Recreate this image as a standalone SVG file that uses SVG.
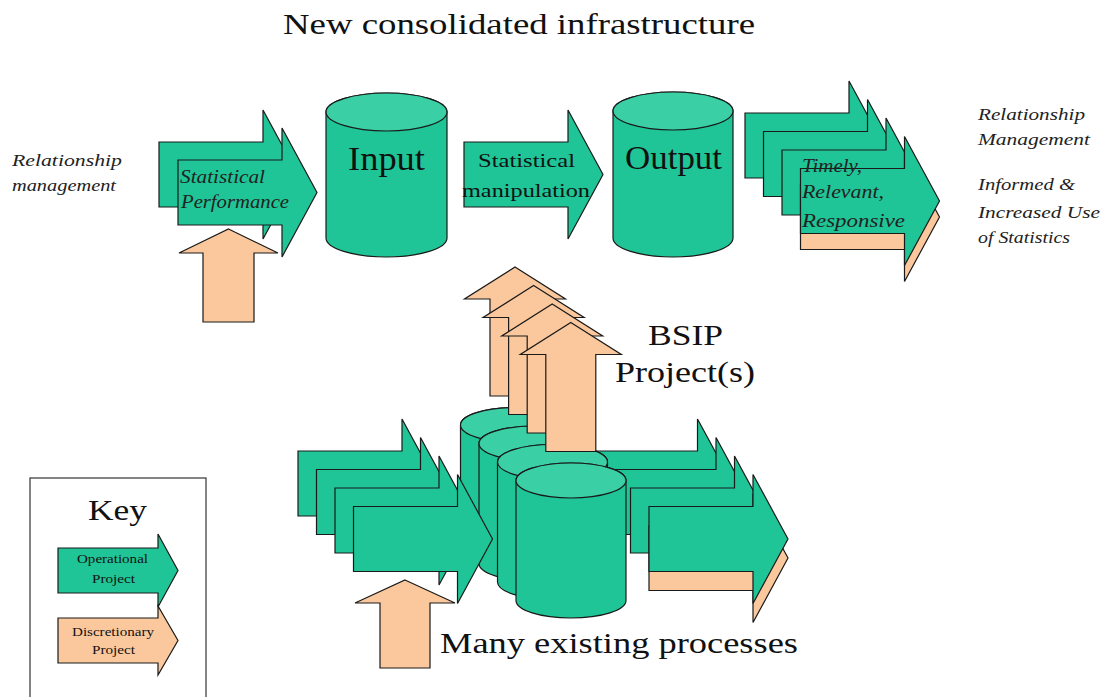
<svg xmlns="http://www.w3.org/2000/svg" width="1106" height="697" viewBox="0 0 1106 697">
  <style>
    .op { fill: #1fc597; stroke: #1a1a1a; stroke-width: 1.2; stroke-linejoin: miter; }
    .disc { fill: #fbc89d; stroke: #1a1a1a; stroke-width: 1.2; }
    .cyl { fill: #1fc597; stroke: #1a1a1a; stroke-width: 1.2; }
    .cyltop { fill: #3acfa5; stroke: #1a1a1a; stroke-width: 1.2; }
    .serif { font-family: "Liberation Serif", "Times New Roman", serif; fill: #111; }
    .it { font-family: "Liberation Serif", "Times New Roman", serif; font-style: italic; fill: #222; }
  </style>
  <rect width="1106" height="697" fill="#ffffff"/>

  <!-- title -->
  <text class="serif" x="283" y="34" font-size="30" textLength="472" lengthAdjust="spacingAndGlyphs">New consolidated infrastructure</text>

  <!-- left-hand label -->
  <g id="rel-left">
    <text class="it" x="12" y="166" font-size="17" textLength="110" lengthAdjust="spacingAndGlyphs">Relationship</text>
    <text class="it" x="12" y="191" font-size="17" textLength="104" lengthAdjust="spacingAndGlyphs">management</text>
  </g>

  <!-- discretionary input below the performance arrows -->
  <g id="perf-disc">
    <path class="disc" d="M228.5,229 L278,253 H254 V322 H203 V253 H179 Z"/>
  </g>

  <!-- statistical performance (two stacked operational arrows) -->
  <g id="stat-performance">
    <path class="op" d="M159,142 H263 V110 L298,174.5 L263,239 V207 H159 Z"/>
    <path class="op" d="M178,160 H282 V128 L317,192.5 L282,257 V225 H178 Z"/>
    <text class="it" x="180" y="183" font-size="18" textLength="85" lengthAdjust="spacingAndGlyphs">Statistical</text>
    <text class="it" x="181" y="208" font-size="18" textLength="108" lengthAdjust="spacingAndGlyphs">Performance</text>
  </g>

  <!-- input store -->
  <g id="input">
    <path class="cyl" d="M326,112 A60.5,19 0 0 1 447,112 V238 A60.5,19 0 0 1 326,238 Z"/>
    <ellipse class="cyltop" cx="386.5" cy="112" rx="60.5" ry="19"/>
    <text class="serif" x="348" y="170" font-size="33" textLength="77" lengthAdjust="spacingAndGlyphs">Input</text>
  </g>

  <!-- statistical manipulation -->
  <g id="stat-manipulation">
    <path class="op" d="M464,142 H568 V110 L603,174.5 L568,239 V207 H464 Z"/>
    <text class="serif" x="478" y="167" font-size="19" textLength="97" lengthAdjust="spacingAndGlyphs">Statistical</text>
    <text class="serif" x="462" y="197" font-size="19" textLength="128" lengthAdjust="spacingAndGlyphs">manipulation</text>
  </g>

  <!-- output store -->
  <g id="output">
    <path class="cyl" d="M613,111 A60,19 0 0 1 733,111 V238 A60,19 0 0 1 613,238 Z"/>
    <ellipse class="cyltop" cx="673" cy="111" rx="60" ry="19"/>
    <text class="serif" x="625" y="169" font-size="33" textLength="97" lengthAdjust="spacingAndGlyphs">Output</text>
  </g>

  <!-- timely / relevant / responsive outputs -->
  <g id="outputs-stack">
    <path class="op" d="M745,113 H849 V81 L884,145.5 L849,210 V178 H745 Z"/>
    <path class="op" d="M763.5,131.5 H867.5 V99.5 L902.5,164 L867.5,228.5 V196.5 H763.5 Z"/>
    <path class="op" d="M782,150 H886 V118 L921,182.5 L886,247 V215 H782 Z"/>
    <path class="disc" d="M800.5,184.5 H904.5 V152.5 L939.5,217 L904.5,281.5 V249.5 H800.5 Z"/>
    <path class="op" d="M800.5,168.5 H904.5 V136.5 L939.5,201 L904.5,265.5 V233.5 H800.5 Z"/>
    <text class="it" x="802" y="172" font-size="18" textLength="60" lengthAdjust="spacingAndGlyphs">Timely,</text>
    <text class="it" x="802" y="198" font-size="18" textLength="82" lengthAdjust="spacingAndGlyphs">Relevant,</text>
    <text class="it" x="802" y="227" font-size="18" textLength="103" lengthAdjust="spacingAndGlyphs">Responsive</text>
  </g>

  <!-- right-hand labels -->
  <g id="rel-right">
    <text class="it" x="978" y="120" font-size="17" textLength="107" lengthAdjust="spacingAndGlyphs">Relationship</text>
    <text class="it" x="978" y="145" font-size="17" textLength="112" lengthAdjust="spacingAndGlyphs">Management</text>
    <text class="it" x="978" y="190" font-size="17" textLength="97" lengthAdjust="spacingAndGlyphs">Informed &amp;</text>
    <text class="it" x="978" y="218" font-size="17" textLength="122" lengthAdjust="spacingAndGlyphs">Increased Use</text>
    <text class="it" x="978" y="243" font-size="17" textLength="92" lengthAdjust="spacingAndGlyphs">of Statistics</text>
  </g>

  <!-- existing processes: outgoing arrows (behind the stores) -->
  <g id="existing-out">
    <path class="op" d="M593.5,451 H697.5 V419 L732.5,483.5 L697.5,548 V516 H593.5 Z"/>
    <path class="op" d="M612,469.5 H716 V437.5 L751,502 L716,566.5 V534.5 H612 Z"/>
    <path class="op" d="M630.5,488 H734.5 V456 L769.5,520.5 L734.5,585 V553 H630.5 Z"/>
    <path class="disc" d="M649,525.5 H753 V493.5 L788,558 L753,622.5 V590.5 H649 Z"/>
    <path class="op" d="M649,506.5 H753 V474.5 L788,539 L753,603.5 V571.5 H649 Z"/>
  </g>

  <!-- existing processes: stores -->
  <g id="existing-stores">
    <path class="cyl" d="M460.5,425 A55,17.5 0 0 1 570.5,425 V545 A55,17.5 0 0 1 460.5,545 Z"/>
    <ellipse class="cyltop" cx="515.5" cy="425" rx="55" ry="17.5"/>
    <path class="cyl" d="M479,443.5 A55,17.5 0 0 1 589,443.5 V563.5 A55,17.5 0 0 1 479,563.5 Z"/>
    <ellipse class="cyltop" cx="534" cy="443.5" rx="55" ry="17.5"/>
    <path class="cyl" d="M497.5,462 A55,17.5 0 0 1 607.5,462 V582 A55,17.5 0 0 1 497.5,582 Z"/>
    <ellipse class="cyltop" cx="552.5" cy="462" rx="55" ry="17.5"/>
    <path class="cyl" d="M516,480.5 A55,17.5 0 0 1 626,480.5 V600.5 A55,17.5 0 0 1 516,600.5 Z"/>
    <ellipse class="cyltop" cx="571" cy="480.5" rx="55" ry="17.5"/>
  </g>

  <!-- BSIP projects -->
  <g id="bsip">
    <path class="disc" d="M515,267 L565.5,299 H540 V396 H490 V299 H464.5 Z"/>
    <path class="disc" d="M533.6,285.5 L584.1,317.5 H558.6 V414.5 H508.6 V317.5 H483.1 Z"/>
    <path class="disc" d="M552.2,304 L602.7,336 H577.2 V433 H527.2 V336 H501.7 Z"/>
    <path class="disc" d="M570.8,322.5 L621.3,354.5 H595.8 V451.5 H545.8 V354.5 H520.3 Z"/>
    <text class="serif" x="648" y="345" font-size="30" textLength="75" lengthAdjust="spacingAndGlyphs">BSIP</text>
    <text class="serif" x="615" y="382" font-size="30" textLength="140" lengthAdjust="spacingAndGlyphs">Project(s)</text>
  </g>

  <!-- existing processes: incoming arrows -->
  <g id="existing-in">
    <path class="op" d="M298,451 H402 V419 L437,483.5 L402,548 V516 H298 Z"/>
    <path class="op" d="M316.5,469.5 H420.5 V437.5 L455.5,502 L420.5,566.5 V534.5 H316.5 Z"/>
    <path class="op" d="M335,488 H439 V456 L474,520.5 L439,585 V553 H335 Z"/>
    <path class="op" d="M353.5,506.5 H457.5 V474.5 L492.5,539 L457.5,603.5 V571.5 H353.5 Z"/>
  </g>

  <!-- discretionary input below existing processes -->
  <g id="existing-disc">
    <path class="disc" d="M405,580 L455,603 H430 V668 H380 V603 H355 Z"/>
  </g>

  <g id="existing-label">
    <text class="serif" x="440" y="653" font-size="30" textLength="358" lengthAdjust="spacingAndGlyphs">Many existing processes</text>
  </g>

  <!-- key -->
  <g id="key">
    <rect x="30" y="478" width="176" height="240" fill="#ffffff" stroke="#333" stroke-width="1.2"/>
    <text class="serif" x="88" y="520" font-size="30" textLength="59" lengthAdjust="spacingAndGlyphs">Key</text>
    <path class="op" d="M58,548 H158 V534 L178,570.5 L158,607 V593 H58 Z"/>
    <text class="serif" x="77" y="563" font-size="12" textLength="71" lengthAdjust="spacingAndGlyphs">Operational</text>
    <text class="serif" x="92" y="583" font-size="12" textLength="43" lengthAdjust="spacingAndGlyphs">Project</text>
    <path class="disc" d="M58,618 H158 V606 L178,640.5 L158,675 V663 H58 Z"/>
    <text class="serif" x="72" y="636" font-size="12" textLength="82" lengthAdjust="spacingAndGlyphs">Discretionary</text>
    <text class="serif" x="92" y="654" font-size="12" textLength="43" lengthAdjust="spacingAndGlyphs">Project</text>
  </g>
</svg>
